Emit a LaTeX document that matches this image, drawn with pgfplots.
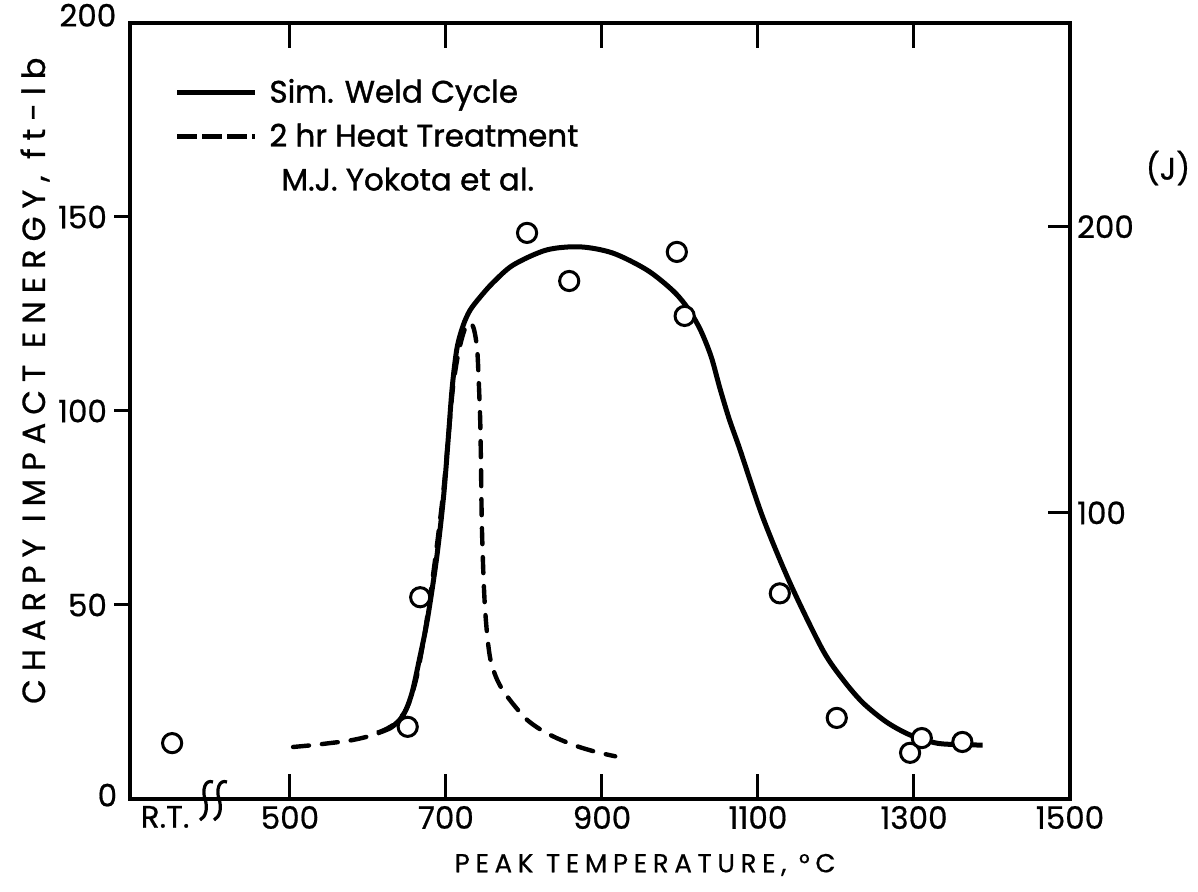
\documentclass[border=0pt]{standalone}
\usepackage{fontspec}
\setmainfont{Poppins}[FakeBold=0.6]
\newfontfamily\lsfont{Poppins}[LetterSpace=22,FakeBold=0.6]
\newfontfamily\lsyfont{Poppins}[LetterSpace=25,FakeBold=0.8]
\newfontfamily\legfont{Poppins}[FakeBold=1.2]
\usepackage{pgfplots}
\pgfplotsset{compat=1.18}
\pgfplotstableread{
T v
612 17
630 18.5
645 21.5
656 27
666 36
676 46
688 62
697 78
703 93
708 106
714 116
722 122
731 126
744 129.4
760 133
786 137.6
829 141.5
872 142.3
914 140.7
958 136.3
991 131
1010 126.5
1026 121
1040 114
1051 106
1063 98
1077 90
1106 72.7
1141 55.7
1183 38.4
1210 30.5
1235 24.7
1265 19.8
1295 16.5
1329 14.4
1360 14.0
1388 13.9
}\weld
\pgfplotstableread{
T v
504 13.4
530 13.9
551 14.4
575 15.0
598 16.0
615 17.2
635 19.5
650 23.5
662 31
673 43
685 60
696 78
703 93
709 106
716 115
724 121
731 122.7
736 121
740 116
742 108
744 97
745 85
746 71
748 58
750 49.5
753 42
757 36
764 31.5
773 28
788 24
804 20.4
822 17.8
842 15.7
868 13.6
893 12.1
917 11
}\heat
\pgfplotstableread{
T v
349 14.4
651 18.6
667 52
804 145.9
858 133.5
996 141
1006 124.5
1128 53
1201 20.9
1295 11.9
1310 15.7
1362 14.7
}\pts
\begin{document}
\begin{tikzpicture}
\useasboundingbox (0,0) rectangle (599pt,446pt);
% left y axis
\begin{axis}[
  at={(65pt,46.5pt)}, anchor=south west,
  scale only axis, width=470pt, height=388pt,
  xmin=295, xmax=1500, ymin=0, ymax=200,
  hide x axis, axis y line*=left,
  axis line style={line width=1.8pt, -},
  ytick={50,100,150}, yticklabels={50,100,150},
  tick align=outside, major tick length=8pt,
  tick style={line width=1.5pt, black},
  /pgf/number format/assume math mode=true,
  yticklabel style={font=\fontsize{15.5}{18}\selectfont},
  ylabel={\lsyfont\fontsize{16}{18}\selectfont CHARPY IMPACT ENERGY, ft-lb},
  ylabel style={at={(axis description cs:-0.101,0.539)}, anchor=center},
]
\end{axis}
% right y axis (J)
\begin{axis}[
  at={(65pt,46.5pt)}, anchor=south west,
  scale only axis, width=470pt, height=388pt,
  xmin=295, xmax=1500, ymin=0, ymax=271.164,
  hide x axis, axis y line*=right,
  axis line style={line width=1.8pt, -},
  ytick={100,200}, yticklabels={100,200},
  tick align=inside, major tick length=11pt,
  tick style={line width=1.5pt, black},
  /pgf/number format/assume math mode=true,
  yticklabel style={font=\fontsize{15.5}{18}\selectfont},
]
\end{axis}
% main axis
\begin{axis}[
  at={(65pt,46.5pt)}, anchor=south west,
  scale only axis, width=470pt, height=388pt,
  xmin=295, xmax=1500, ymin=0, ymax=200,
  axis line style={line width=1.8pt},
  xtick={500,700,900,1100,1300,1500},
  xticklabels={500,700,900,1100,1300,1500},
  ytick=\empty,
  tick align=inside, major tick length=12.5pt,
  tick style={line width=1.5pt, black},
  /pgf/number format/assume math mode=true,
  xticklabel style={font=\fontsize{15.5}{18}\selectfont},
  extra x ticks={340}, extra x tick labels={R.T.},
  extra x tick style={major tick length=0pt},
  xlabel={\lsfont\fontsize{13}{15}\selectfont PEAK TEMPERATURE, °C},
  xlabel style={at={(axis description cs:0.548,-0.085)}, anchor=center},
  clip=false,
  legend style={draw=none, fill=none, at={(axis cs:352,186.7)}, anchor=north west,
    font=\legfont\fontsize{15.5}{18}\selectfont, row sep=5pt, inner sep=0pt},
  legend cell align=left,
  legend image code/.code={\draw[#1] (0pt,0pt) -- (39pt,0pt); \path (43pt,0pt);},
]
\addlegendimage{line width=2.3pt}
\addlegendentry{Sim. Weld Cycle}
\addlegendimage{line width=2.3pt, dash pattern=on 10pt off 2.5pt}
\addlegendentry{2 hr Heat Treatment}
\addlegendimage{empty legend}
\addlegendentry{\hspace*{6pt}M.J. Yokota et al.}
\addplot[forget plot, black, line width=2.2pt, line cap=round, dash pattern=on 8pt off 6.5pt, smooth] table[x=T,y=v] {\heat};
\addplot[forget plot, black, line width=2.5pt, smooth] table[x=T,y=v] {\weld};
\addplot[forget plot, only marks, mark=*, mark size=4.8pt, mark options={draw=black, fill=white, line width=1.5pt}] table[x=T,y=v] {\pts};
\node[font=\fontsize{15.5}{18}\selectfont] at (axis cs:266,1) {0};
\node[font=\fontsize{15.5}{18}\selectfont] at (axis cs:241,202) {200};
\end{axis}
% axis break marks
\foreach \cx in {102.5,109.5} {
  \draw[line width=1.6pt] (\cx pt+4pt,46.5pt+8.5pt) .. controls (\cx pt,46.5pt+10pt) and (\cx pt-1.5pt,46.5pt+4.5pt) .. (\cx pt,46.5pt) .. controls (\cx pt+1.5pt,46.5pt-4.5pt) and (\cx pt+0.5pt,46.5pt-9pt) .. (\cx pt-2.5pt,46.5pt-10.5pt);
}
\node[font=\fontsize{15.5}{18}\selectfont] at (584pt,362pt) {(J)};
\end{tikzpicture}
\end{document}
